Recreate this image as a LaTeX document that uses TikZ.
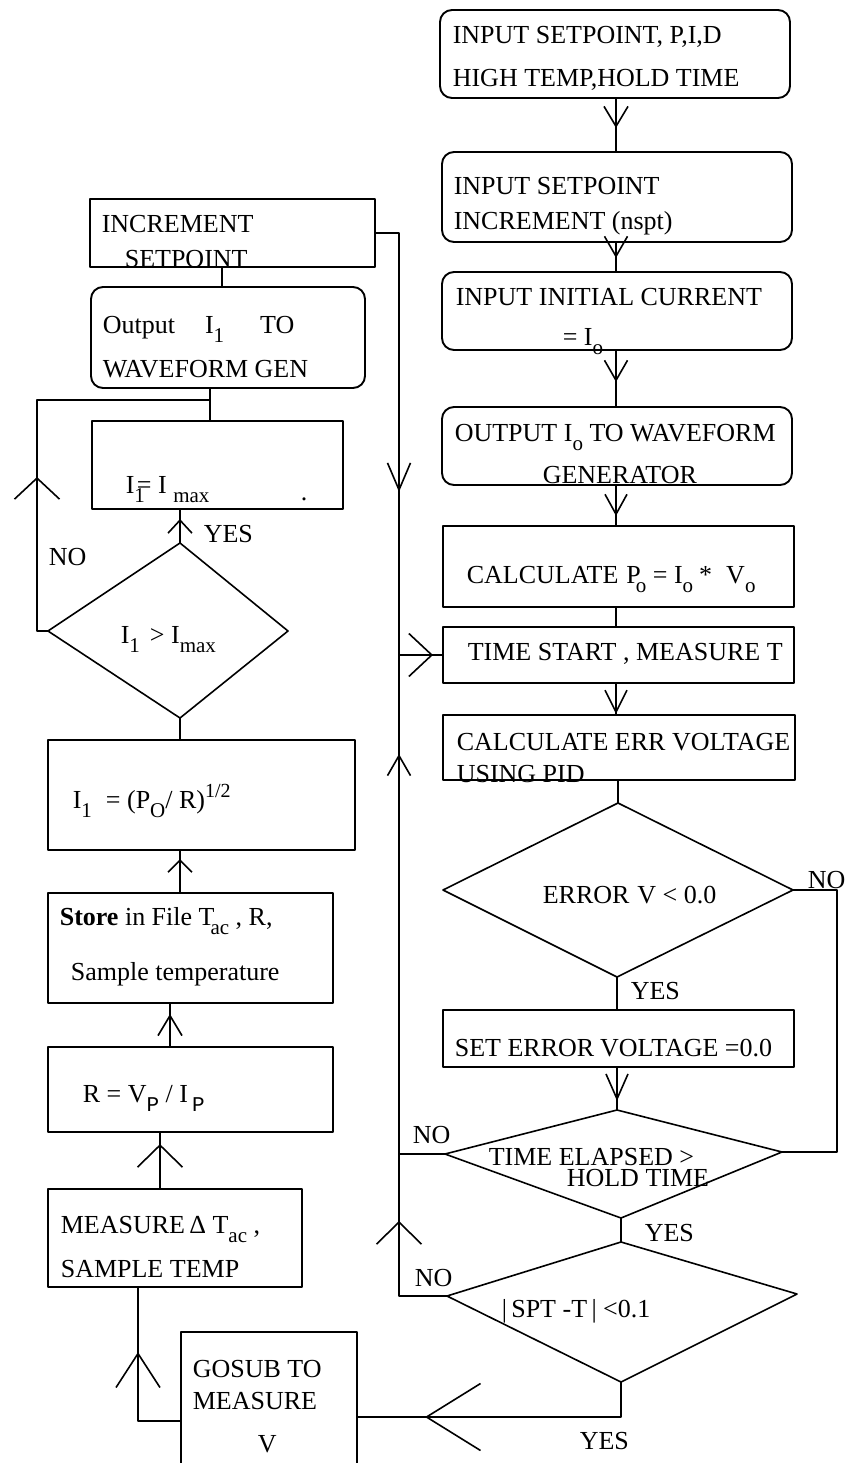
\documentclass[tikz,border=0pt]{standalone}
\usepackage{fontspec}
\setmainfont{Liberation Serif}
\newfontfamily\monofont{Liberation Mono}
\usetikzlibrary{arrows.meta, decorations.markings}

\newcommand{\lowr}[1]{\raisebox{-9pt}{\fontsize{21}{21}\selectfont #1}}
\newcommand{\highr}[1]{\raisebox{11pt}{\fontsize{20}{20}\selectfont #1}}

\begin{document}
\begin{tikzpicture}[
  x=1pt, y=-1pt,
  line width=1.6pt, line join=round,
  font=\fontsize{26}{30}\selectfont,
  box/.style 2 args={draw, line width=1.9pt, minimum width=#1, minimum height=#2, inner sep=0pt},
  rbox/.style 2 args={box={#1}{#2}, rounded corners=12pt},
  lbl/.style={anchor=base west, inner sep=0pt},
  vtip/.style n args={3}{postaction={decorate, decoration={markings,
      mark=at position #1 with {\arrow{Straight Barb[length=#2, width=#3]}}}}}
]
\useasboundingbox (0,0) rectangle (844,1463);
\clip (0,0) rectangle (844,1463);

% right column
\node[rbox={350pt}{88pt}] (inp) at (615,54) {};
\node[rbox={350pt}{90pt}] (incsp) at (617,197) {};
\node[rbox={350pt}{78pt}] (inic) at (617,311) {};
\node[rbox={350pt}{78pt}] (outio) at (617,446) {};
\node[box={351pt}{81pt}] (calcp) at (618.5,566.5) {};
\node[box={351pt}{56pt}] (tstart) at (618.5,655) {};
\node[box={352pt}{65pt}] (calcerr) at (619,747.5) {};
\node[box={351pt}{57pt}] (seterr) at (618.5,1038.5) {};

\node[lbl] (inp-a) at (452,44) {INPUT SETPOINT, P,I,D};
\node[lbl] (inp-b) at (452,87) {HIGH TEMP,HOLD TIME};
\node[lbl] (incsp-a) at (453,195) {INPUT SETPOINT};
\node[lbl] (incsp-b) at (453,230) {INCREMENT (nspt)};
\node[lbl] (inic-a) at (455,305) {INPUT INITIAL CURRENT};
\node[lbl] (inic-b) at (562,345) {= I\lowr{o}};
\node[lbl] (outio-a) at (454,441) {OUTPUT I\lowr{o} TO WAVEFORM};
\node[lbl] (outio-b) at (542,483) {GENERATOR};
\node[lbl] (calcp-a) at (466,583) {CALCULATE\hspace{8pt}P\kern-5pt\lowr{o} = I\lowr{o}\hspace{6pt}*\hspace{14pt}V\lowr{o}};
\node[lbl] (tstart-a) at (467,660) {TIME START , MEASURE T};
\node[lbl] (calcerr-a) at (456,750) {CALCULATE ERR VOLTAGE};
\node[lbl] (calcerr-b) at (456,782) {USING PID};
\node[lbl] (seterr-a) at (454,1056) {SET ERROR\hspace{6pt}VOLTAGE =0.0};

% decisions, right
\coordinate (d1t) at (618,803);  \coordinate (d1r) at (793,890);
\coordinate (d1b) at (617,977);  \coordinate (d1l) at (443,890);
\coordinate (d2t) at (617,1110); \coordinate (d2r) at (782,1152);
\coordinate (d2b) at (621,1218); \coordinate (d2l) at (445,1154);
\coordinate (d3t) at (621,1242); \coordinate (d3r) at (797,1294);
\coordinate (d3b) at (621,1382); \coordinate (d3l) at (447,1296);
\draw (d1t) -- (d1r) -- (d1b) -- (d1l) -- cycle;
\draw (d2t) -- (d2r) -- (d2b) -- (d2l) -- cycle;
\draw (d3t) -- (d3r) -- (d3b) -- (d3l) -- cycle;

\node[lbl] (d1-t) at (542,903) {ERROR\hspace{8pt}V < 0.0};
\node[lbl] (d1-no) at (807,888) {NO};
\node[lbl] (d1-yes) at (630,999) {YES};
\node[lbl] (d2-a) at (488,1165) {TIME ELAPSED >};
\node[lbl] (d2-b) at (566,1186) {HOLD TIME};
\node[lbl] (d2-no) at (412,1143) {NO};
\node[lbl] (d2-yes) at (644,1241) {YES};
\node[lbl] (d3-t) at (501,1317) {|\,SPT -T\,| <0.1};
\node[lbl] (d3-no) at (414,1286) {NO};
\node[lbl] (d3-yes) at (579,1449) {YES};

% left column
\node[box={285pt}{68pt}] (incr) at (232.5,233) {};
\node[rbox={274pt}{101pt}] (outi) at (228,337.5) {};
\node[box={251pt}{88pt}] (imax) at (217.5,465) {};
\node[box={307pt}{110pt}] (icalc) at (201.5,795) {};
\node[box={285pt}{110pt}] (store) at (190.5,948) {};
\node[box={285pt}{85pt}] (rcalc) at (190.5,1089.5) {};
\node[box={254pt}{98pt}] (meas) at (175,1238) {};
\node[box={176pt}{148pt}] (gosub) at (269,1406) {};

\coordinate (dLt) at (180,543); \coordinate (dLr) at (288,631);
\coordinate (dLb) at (180,718); \coordinate (dLl) at (48,631);
\draw (dLt) -- (dLr) -- (dLb) -- (dLl) -- cycle;

\node[lbl] (incr-a) at (101,233) {INCREMENT};
\node[lbl] (incr-b) at (124,267) {SETPOINT};
\node[lbl] (outi-a) at (102,333) {Output\hspace{30pt}I\lowr{1}\hspace{36pt}TO};
\node[lbl] (outi-b) at (102,377) {WAVEFORM GEN};
\node[lbl] (imax-a) at (125,493) {I\lowr{1}\kern-8pt= I \lowr{max}};
\node[lbl] (imax-dot) at (300,500) {.};
\node[lbl] (dL-t) at (120,643) {I\lowr{1}\hspace{10pt}> I\lowr{max}};
\node[lbl] (dL-yes) at (203,542) {YES};
\node[lbl] (dL-no) at (48,565) {NO};
\node[lbl] (icalc-a) at (72,808) {I\lowr{1}\hspace{14pt}= (P\lowr{O}/ R)\highr{1/2}};
\node[lbl] (store-a) at (59,925) {\textbf{Store} in File T\kern-4pt\lowr{ac} , R,};
\node[lbl] (store-b) at (70,980) {Sample temperature};
\node[lbl] (rcalc-a) at (82,1102) {R = V\lowr{\monofont P} / I\hspace{4pt}\lowr{\monofont P}};
\node[lbl] (meas-a) at (60,1233) {MEASURE\,Δ T\lowr{ac} ,};
\node[lbl] (meas-b) at (60,1277) {SAMPLE TEMP};
\node[lbl] (gosub-a) at (192,1377) {GOSUB TO};
\node[lbl] (gosub-b) at (192,1409) {MEASURE};
\node[lbl] (gosub-c) at (257,1452) {V};

% connectors, right column
\coordinate (rc) at (616,0);
\coordinate (rr) at (837,0);
\draw[vtip={29pt}{20pt}{24pt}] (inp.south -| rc) -- (incsp.north -| rc);
\draw[vtip={15pt}{20pt}{23pt}] (incsp.south -| rc) -- (inic.north -| rc);
\draw[vtip={31pt}{20pt}{23pt}] (inic.south -| rc) -- (outio.north -| rc);
\draw[vtip={30pt}{20pt}{22pt}] (outio.south -| rc) -- (calcp.north -| rc);
\draw (calcp.south -| rc) -- (tstart.north -| rc);
\draw[vtip={30pt}{22pt}{22pt}] (tstart.south -| rc) -- (calcerr.north -| rc);
\draw (calcerr.south -| d1t) -- (d1t);
\draw (d1b) -- (seterr.north -| d1b);
\draw[vtip={33pt}{25pt}{22pt}] (seterr.south -| d2t) -- (d2t);
\draw (d1r) -- (d1r -| rr) -- (d2r -| rr) -- (d2r);
\draw (d2b) -- (d3t);

% return bus
\coordinate (bus) at (399,655);
\draw[vtip={282pt}{27pt}{23pt}] (incr.east) -| (bus);
\draw[vtip={34pt}{23pt}{43pt}] (bus) -- (tstart.west);
\draw (d2l) -- (d2l -| bus);
\draw[vtip={123pt}{22pt}{45pt}, vtip={590pt}{20pt}{23pt}] (d3l) -- (d3l -| bus) -- (bus);

% connectors, left column
\coordinate (dd) at (621,1417);
\coordinate (gl) at (138,1421);
\coordinate (nl) at (37,400);
\coordinate (nj) at (210,400);
\draw[vtip={231pt}{54pt}{67pt}] (d3b) -- (dd) -- (dd -| gosub.east);
\draw[vtip={111pt}{34pt}{44pt}] (gl -| gosub.west) -- (gl) -- (gl |- meas.south);
\draw[vtip={44pt}{22pt}{45pt}] ([xshift=-15pt]meas.north) -- ([xshift=-15pt]meas.north |- rcalc.south);
\draw[vtip={32pt}{20pt}{24pt}] ([xshift=-20.5pt]rcalc.north) -- ([xshift=-20.5pt]rcalc.north |- store.south);
\draw[vtip={33pt}{12pt}{24pt}] (store.north -| dLb) -- (icalc.south -| dLb);
\draw (icalc.north -| dLb) -- (dLb);
\draw[vtip={24pt}{13pt}{24pt}] (dLt) -- (dLt |- imax.south);
\draw[vtip={165pt}{21pt}{45pt}] (dLl) -- (dLl -| nl) -- (nl) -- (nj);
\draw (outi.south -| nj) -- (imax.north -| nj);
\draw ([xshift=-10.5pt]incr.south) -- ([xshift=-10.5pt]incr.south |- outi.north);

\end{tikzpicture}
\end{document}
